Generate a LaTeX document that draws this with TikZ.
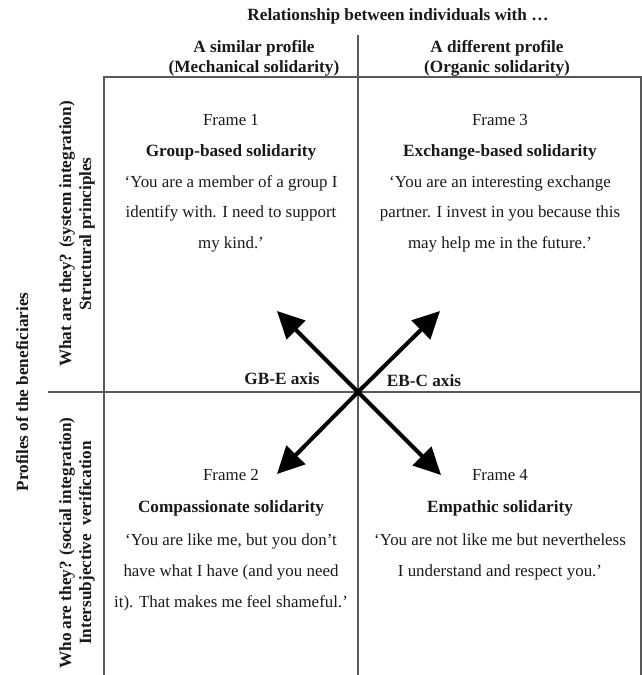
\documentclass[tikz,border=0pt]{standalone}
\usepackage{fontspec}
\setmainfont{Liberation Serif}
\usetikzlibrary{arrows.meta}
\begin{document}
\begin{tikzpicture}[x=1pt,y=-1pt,
  txt/.style={font=\fontsize{16.9}{20}\selectfont, inner sep=0pt, anchor=base, text=black!90},
  bold/.style={txt, font=\fontsize{17.2}{20}\selectfont\bfseries},
  gridline/.style={draw=black!65, line width=1.3pt},
  axisarrow/.style={line width=4pt, draw=black, -{Triangle[length=27pt,width=26pt]}}]
\useasboundingbox (0,0) rectangle (642,675);
% grid
\coordinate (tl) at (104,77);
\coordinate (tr) at (641,77);
\coordinate (bl) at (104,675);
\coordinate (br) at (641,675);
\coordinate (vt) at (358,35);
\coordinate (vb) at (358,675);
\coordinate (hl) at (48,392);
\coordinate (hr) at (641,392);
\draw[gridline] (bl) -- (tl) -- (tr) -- (br);
\draw[gridline] (vt) -- (vb);
\draw[gridline] (hl) -- (hr);
% headers
\node[bold] (title) at (398,20) {Relationship between individuals with \dots};
\node[bold] (h1a) at (254,52) {A similar profile};
\node[bold] (h1b) at (254,72) {(Mechanical solidarity)};
\node[bold] (h2a) at (497,52) {A different profile};
\node[bold] (h2b) at (497,72) {(Organic solidarity)};
% side labels
\node[bold, rotate=90] (prof) at (28,392) {Profiles of the beneficiaries};
\node[bold, rotate=90] (what) at (71,234) {What are they? (system integration)};
\node[bold, rotate=90] (struct) at (91,234) {Structural principles};
\node[bold, rotate=90] (who) at (71,543) {Who are they? (social integration)};
\node[bold, rotate=90] (inter) at (91,543) {Intersubjective\ \ verification};
% frame 1
\node[txt] (f1) at (231,125) {Frame 1};
\node[bold] (f1h) at (231,156) {Group-based solidarity};
\node[txt] (f1q1) at (231,187) {‘You are a member of a group I};
\node[txt] (f1q2) at (231,217.5) {identify with. I need to support};
\node[txt] (f1q3) at (231,248) {my kind.’};
% frame 3
\node[txt] (f3) at (500,125) {Frame 3};
\node[bold] (f3h) at (500,156) {Exchange-based solidarity};
\node[txt] (f3q1) at (500,187) {‘You are an interesting exchange};
\node[txt] (f3q2) at (500,217.5) {partner. I invest in you because this};
\node[txt] (f3q3) at (500,248) {may help me in the future.’};
% frame 2
\node[txt] (f2) at (231,480) {Frame 2};
\node[bold] (f2h) at (231,512) {Compassionate solidarity};
\node[txt] (f2q1) at (231,545) {‘You are like me, but you don’t};
\node[txt] (f2q2) at (231,576) {have what I have (and you need};
\node[txt] (f2q3) at (231,607) {it). That makes me feel shameful.’};
% frame 4
\node[txt] (f4) at (500,480) {Frame 4};
\node[bold] (f4h) at (500,512) {Empathic solidarity};
\node[txt] (f4q1) at (500,545) {‘You are not like me but nevertheless};
\node[txt] (f4q2) at (500,576) {I understand and respect you.’};
% axes
\node[bold] (gbe) at (282,384) {GB-E axis};
\node[bold] (ebc) at (424,386) {EB-C axis};
\coordinate (c) at (358,392);
\coordinate (aUL) at (277,311);
\coordinate (aUR) at (440,311);
\coordinate (aLL) at (277,474);
\coordinate (aLR) at (441,475);
\draw[axisarrow] (c) -- (aUL);
\draw[axisarrow] (c) -- (aUR);
\draw[axisarrow] (c) -- (aLL);
\draw[axisarrow] (c) -- (aLR);
\end{tikzpicture}
\end{document}
